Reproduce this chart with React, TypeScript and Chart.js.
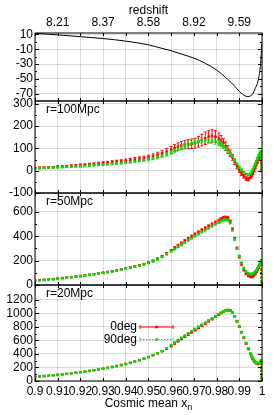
import React, { useEffect, useRef } from "react";
import { Chart, registerables } from "chart.js";

Chart.register(...registerables);

// ---------------- data ----------------
const X = [
  0.9, 0.902, 0.904, 0.906, 0.908, 0.91, 0.912, 0.914, 0.916, 0.918,
  0.92, 0.922, 0.924, 0.926, 0.928, 0.93, 0.932, 0.934, 0.936, 0.938,
  0.94, 0.942, 0.944, 0.946, 0.948, 0.95, 0.952, 0.954, 0.956, 0.958,
  0.96, 0.9615, 0.963, 0.9645, 0.966, 0.9675, 0.969, 0.9705, 0.972, 0.9735,
  0.975, 0.9765, 0.978, 0.9795, 0.981, 0.982, 0.983, 0.984, 0.985, 0.986,
  0.987, 0.988, 0.989, 0.99, 0.991, 0.992, 0.993, 0.994, 0.995, 0.9955,
  0.996, 0.9965, 0.997, 0.9975, 0.998, 0.9985, 0.999, 0.9995, 0.9997, 0.9998,
  0.99985, 0.9999, 0.99993, 0.99996, 0.99998, 1.0,
];

const TOP_X = [0.9, 0.91, 0.92, 0.93, 0.94, 0.95, 0.955, 0.96, 0.965, 0.97, 0.975, 0.98, 0.985, 0.988, 0.99, 0.992, 0.9935, 0.995, 0.996, 0.997, 0.998, 0.9985, 0.999, 0.9995, 0.9999, 1.0];
const TOP_Y = [11.5, 9.5, 7, 4.5, 1, -4, -8, -12, -17, -22, -29, -38, -51, -60, -67, -72, -74, -73, -70, -63, -56, -49, -40, -25, -5, 0];

// r = 100 Mpc
const R100_0 = [
  12, 13, 14, 15, 16, 18, 19, 20, 22, 23,
  25, 26, 28, 30, 32, 34, 36, 38, 40, 42,
  44, 47, 50, 53, 56, 60, 65, 71, 78, 86,
  94, 101, 108, 113, 117, 119, 121, 124, 130, 138,
  146, 153, 156, 153, 144, 135, 124, 110, 95, 78,
  60, 40, 20, 3, -12, -25, -35, -37, -28, -20,
  -10, 2, 15, 28, 40, 52, 62, 68, 70, 65,
  55, 42, 30, 18, 8, 0,
];
const R100_0_ERR = [
  3, 3, 3, 3, 3, 4, 4, 4, 4, 4,
  5, 5, 5, 5, 6, 6, 6, 7, 7, 7,
  8, 8, 9, 9, 10, 10, 11, 12, 13, 14,
  15, 16, 17, 18, 19, 20, 21, 22, 24, 26,
  28, 28, 28, 27, 25, 23, 21, 19, 17, 15,
  13, 12, 11, 10, 9, 8, 8, 8, 8, 7,
  7, 7, 6, 6, 6, 6, 5, 5, 5, 5,
  5, 5, 5, 5, 5, 5,
];
const R100_90 = [
  10, 11, 12, 13, 14, 15, 16, 17, 18, 19,
  20, 21, 23, 24, 26, 27, 29, 30, 32, 34,
  36, 38, 41, 44, 47, 51, 55, 60, 66, 73,
  81, 88, 96, 104, 111, 118, 124, 129, 133, 136,
  137, 137, 135, 130, 124, 118, 110, 101, 90, 78,
  64, 48, 32, 17, 4, -7, -15, -18, -12, -5,
  5, 17, 30, 43, 56, 68, 78, 85, 87, 80,
  65, 50, 35, 20, 8, 0,
];
const R100_90_ERR = [
  2, 2, 2, 2, 2, 2, 2, 2, 2, 2,
  3, 3, 3, 3, 3, 3, 3, 4, 4, 4,
  4, 4, 5, 5, 5, 6, 6, 7, 7, 8,
  8, 9, 9, 10, 10, 11, 11, 12, 12, 13,
  13, 13, 13, 12, 12, 11, 10, 9, 8, 8,
  7, 7, 6, 6, 5, 5, 5, 5, 5, 5,
  4, 4, 4, 4, 4, 4, 4, 4, 4, 4,
  4, 4, 4, 4, 4, 4,
];

// r = 50 Mpc
const R50_0 = [
  37, 40, 43, 46, 49, 53, 57, 61, 65, 69,
  74, 79, 84, 89, 95, 101, 107, 113, 120, 127,
  135, 143, 152, 161, 171, 183, 198, 215, 236, 259,
  284, 303, 322, 341, 360, 379, 397, 415, 432, 449,
  465, 481, 497, 513, 528, 540, 549, 553, 548, 522,
  458, 380, 302, 232, 172, 125, 95, 78, 70, 70,
  74, 82, 93, 107, 123, 142, 163, 185, 198, 202,
  170, 130, 95, 60, 30, 0,
];
const R50_0_ERR = [
  3, 3, 3, 3, 3, 3, 3, 3, 3, 3,
  3, 3, 3, 3, 3, 3, 3, 3, 3, 3,
  3, 6, 6, 6, 6, 6, 6, 6, 6, 6,
  6, 12, 12, 12, 12, 12, 12, 12, 12, 12,
  12, 12, 12, 12, 12, 12, 12, 12, 12, 10,
  10, 10, 10, 10, 10, 10, 10, 10, 10, 10,
  10, 6, 6, 6, 6, 6, 6, 6, 6, 6,
  6, 6, 6, 6, 6, 6,
];
const R50_90 = [
  35, 38, 41, 44, 47, 51, 55, 59, 63, 67,
  72, 77, 82, 87, 93, 99, 105, 111, 118, 125,
  133, 141, 150, 159, 169, 180, 194, 210, 230, 252,
  276, 294, 312, 330, 348, 366, 384, 401, 418, 434,
  450, 466, 482, 498, 513, 524, 532, 536, 532, 508,
  448, 375, 302, 238, 182, 140, 112, 96, 90, 90,
  93, 99, 108, 120, 135, 152, 172, 192, 202, 205,
  170, 130, 95, 60, 30, 0,
];
const R50_90_ERR = [
  2, 2, 2, 2, 2, 2, 2, 2, 2, 2,
  2, 2, 2, 2, 2, 2, 2, 2, 2, 2,
  2, 4, 4, 4, 4, 4, 4, 4, 4, 4,
  4, 8, 8, 8, 8, 8, 8, 8, 8, 8,
  8, 8, 8, 8, 8, 8, 8, 8, 8, 6,
  6, 6, 6, 6, 6, 6, 6, 6, 6, 6,
  6, 4, 4, 4, 4, 4, 4, 4, 4, 4,
  4, 4, 4, 4, 4, 4,
];

// r = 20 Mpc
const R20_0 = [
  60, 66, 72, 78, 85, 92, 99, 106, 114, 122,
  131, 140, 150, 160, 171, 182, 194, 207, 221, 236,
  252, 269, 288, 308, 330, 355, 382, 411, 440, 475,
  515, 555, 590, 623, 655, 688, 720, 752, 785, 818,
  850, 883, 916, 950, 982, 1005, 1025, 1040, 1050, 1046,
  1010, 958, 885, 803, 720, 638, 555, 473, 398, 362,
  328, 298, 276, 262, 254, 253, 262, 282, 298, 302,
  260, 200, 150, 100, 50, 0,
];
const R20_0_ERR = [
  3, 3, 3, 3, 3, 3, 3, 3, 3, 3,
  3, 3, 3, 3, 3, 3, 3, 3, 3, 3,
  3, 5, 5, 5, 5, 5, 5, 5, 5, 5,
  5, 10, 10, 10, 10, 10, 10, 10, 10, 10,
  10, 10, 10, 10, 10, 10, 10, 10, 10, 10,
  10, 8, 8, 8, 8, 8, 8, 8, 8, 8,
  8, 5, 5, 5, 5, 5, 5, 5, 5, 5,
  5, 5, 5, 5, 5, 5,
];
const R20_90 = [
  60, 66, 72, 78, 85, 92, 99, 106, 114, 122,
  131, 140, 150, 160, 171, 182, 194, 207, 221, 236,
  252, 269, 288, 308, 330, 355, 382, 411, 445, 484,
  530, 570, 605, 640, 673, 706, 739, 771, 803, 835,
  866, 897, 928, 960, 990, 1010, 1027, 1040, 1046, 1040,
  1005, 955, 885, 805, 725, 645, 565, 485, 410, 375,
  340, 310, 288, 274, 266, 265, 274, 292, 308, 312,
  260, 200, 150, 100, 50, 0,
];
const R20_90_ERR = [
  2, 2, 2, 2, 2, 2, 2, 2, 2, 2,
  2, 2, 2, 2, 2, 2, 2, 2, 2, 2,
  2, 3, 3, 3, 3, 3, 3, 3, 3, 3,
  3, 6, 6, 6, 6, 6, 6, 6, 6, 6,
  6, 6, 6, 6, 6, 6, 6, 6, 6, 6,
  6, 5, 5, 5, 5, 5, 5, 5, 5, 5,
  5, 4, 4, 4, 4, 4, 4, 4, 4, 4,
  4, 4, 4, 4, 4, 4,
];

const X_TICKS = [0.9, 0.91, 0.92, 0.93, 0.94, 0.95, 0.96, 0.97, 0.98, 0.99, 1.0];
const REDSHIFT_AT = [0.91, 0.93, 0.95, 0.97, 0.99];
const REDSHIFT_LABELS = ["8.21", "8.37", "8.58", "8.92", "9.59"];
const TOP_TICKS = [10, -10, -30, -50, -70];
const R100_TICKS = [300, 200, 100, 0, -100];
const R50_TICKS = [600, 400, 200, 0];
const R20_TICKS = [1200, 1000, 800, 600, 400, 200, 0];
const PANEL_LABELS = ["r=100Mpc", "r=50Mpc", "r=20Mpc"];
const SERIES_NAMES = ["0deg", "90deg"];
const X_TITLE = "Cosmic mean x";
const X_TITLE_SUB = "n";
const TOP_TITLE = "redshift";

// ---------------- layout / style ----------------
const FONT = "'Liberation Sans', Arial, Helvetica, sans-serif";
const W = 274;
const H = 415;
const AXIS_W = 35;
const PAD_RIGHT = 12;
const PANEL_BOUNDS = [
  [33, 101],
  [101, 193],
  [193, 285],
  [285, 381],
];
const RED = "rgb(255,0,0)";
const GREEN = "rgb(0,225,0)";
const GRID = "rgba(0,0,0,0.14)";

const errorBarPlugin = {
  id: "errbars",
  beforeDatasetDraw(chart: any, args: any) {
    const ds = chart.data.datasets[args.index];
    if (!ds.errors) return;
    const meta = chart.getDatasetMeta(args.index);
    const ys = chart.scales[meta.yAxisID];
    const a = chart.chartArea;
    const ctx = chart.ctx;
    ctx.save();
    ctx.beginPath();
    ctx.rect(a.left, a.top, a.right - a.left, a.bottom - a.top);
    ctx.clip();
    ctx.strokeStyle = ds.errorColor;
    ctx.lineWidth = 1;
    ctx.setLineDash(ds.errorDash || []);
    ctx.beginPath();
    ds.data.forEach((p: any, i: number) => {
      const e = ds.errors[i];
      const el = meta.data[i];
      if (!el) return;
      const px = el.x;
      const y1 = ys.getPixelForValue(p.y - e);
      const y2 = ys.getPixelForValue(p.y + e);
      ctx.moveTo(px, y1);
      ctx.lineTo(px, y2);
      ctx.moveTo(px - 1.5, y1);
      ctx.lineTo(px + 1.5, y1);
      ctx.moveTo(px - 1.5, y2);
      ctx.lineTo(px + 1.5, y2);
    });
    ctx.stroke();
    ctx.restore();
  },
};

function makeFramePlugin(yTicks: number[]) {
  return {
    id: "frame",
    afterDraw(chart: any) {
      const { ctx, chartArea: a, scales } = chart;
      ctx.save();
      ctx.strokeStyle = "#000";
      ctx.lineWidth = 1;
      ctx.setLineDash([]);
      ctx.strokeRect(a.left, a.top, a.right - a.left, a.bottom - a.top);
      ctx.beginPath();
      for (const v of X_TICKS) {
        const px = Math.round(scales.x.getPixelForValue(v)) + 0.5;
        ctx.moveTo(px, a.top);
        ctx.lineTo(px, a.top + 3);
        ctx.moveTo(px, a.bottom);
        ctx.lineTo(px, a.bottom - 3);
      }
      const s = [...yTicks].sort((p, q) => p - q);
      s.forEach((v, i) => {
        const py = Math.round(scales.y.getPixelForValue(v)) + 0.5;
        ctx.moveTo(a.left, py);
        ctx.lineTo(a.left + 4, py);
        ctx.moveTo(a.right, py);
        ctx.lineTo(a.right - 4, py);
        if (i < s.length - 1) {
          const m = Math.round(scales.y.getPixelForValue((v + s[i + 1]) / 2)) + 0.5;
          ctx.moveTo(a.left, m);
          ctx.lineTo(a.left + 2, m);
          ctx.moveTo(a.right, m);
          ctx.lineTo(a.right - 2, m);
        }
      });
      ctx.stroke();
      ctx.restore();
    },
  };
}

function makeLabelPlugin(text: string) {
  return {
    id: "panelLabel",
    afterDraw(chart: any) {
      const { ctx, chartArea: a } = chart;
      ctx.save();
      ctx.font = `12px ${FONT}`;
      ctx.fillStyle = "#000";
      ctx.textAlign = "left";
      ctx.textBaseline = "middle";
      ctx.fillText(text, a.left + 11, a.top + 8.5);
      ctx.restore();
    },
  };
}

const legendPlugin = {
  id: "key",
  afterDraw(chart: any) {
    const { ctx, chartArea: a } = chart;
    const textRight = a.left + 102;
    const x0 = a.left + 105;
    const x1 = a.left + 138;
    const rows = [
      { name: SERIES_NAMES[0], color: RED, dash: [] as number[], y: a.top + 42 },
      { name: SERIES_NAMES[1], color: GREEN, dash: [1.5, 1.5], y: a.top + 54.5 },
    ];
    ctx.save();
    for (const r of rows) {
      ctx.font = `12px ${FONT}`;
      ctx.textAlign = "right";
      ctx.textBaseline = "middle";
      ctx.fillStyle = "#000";
      ctx.fillText(r.name, textRight, r.y);
      ctx.strokeStyle = r.color;
      ctx.lineWidth = 1;
      ctx.setLineDash(r.dash);
      ctx.beginPath();
      ctx.moveTo(x0, r.y);
      ctx.lineTo(x1, r.y);
      ctx.moveTo(x0, r.y - 2);
      ctx.lineTo(x0, r.y + 2);
      ctx.moveTo(x1, r.y - 2);
      ctx.lineTo(x1, r.y + 2);
      ctx.stroke();
      ctx.setLineDash([]);
      ctx.fillStyle = r.color;
      ctx.fillRect((x0 + x1) / 2 - 1.3, r.y - 1.3, 2.6, 2.6);
    }
    ctx.restore();
  },
};

const xTitlePlugin = {
  id: "xtitle",
  afterDraw(chart: any) {
    const { ctx, chartArea: a } = chart;
    ctx.save();
    ctx.font = `12px ${FONT}`;
    const w1 = ctx.measureText(X_TITLE).width;
    ctx.font = `9px ${FONT}`;
    const w2 = ctx.measureText(X_TITLE_SUB).width;
    const cx = (a.left + a.right) / 2;
    const start = cx - (w1 + w2) / 2;
    const y = a.bottom + 23;
    ctx.fillStyle = "#000";
    ctx.textBaseline = "middle";
    ctx.textAlign = "left";
    ctx.font = `12px ${FONT}`;
    ctx.fillText(X_TITLE, start, y);
    ctx.font = `9px ${FONT}`;
    ctx.fillText(X_TITLE_SUB, start + w1, y + 4);
    ctx.restore();
  },
};

function xScale(kind: "top" | "hidden" | "bottom", height: number) {
  return {
    type: "linear",
    min: X_TICKS[0],
    max: X_TICKS[X_TICKS.length - 1],
    position: kind === "top" ? "top" : "bottom",
    afterBuildTicks: (s: any) => {
      s.ticks = X_TICKS.map((v) => ({ value: v }));
    },
    afterFit: (s: any) => {
      s.height = height;
    },
    grid: { color: GRID, drawTicks: false, lineWidth: 1 },
    border: { display: false },
    title:
      kind === "top"
        ? { display: true, text: TOP_TITLE, color: "#000", font: { family: FONT, size: 12 }, padding: { top: 3, bottom: 0 } }
        : { display: false },
    ticks: {
      display: kind !== "hidden",
      autoSkip: false,
      maxRotation: 0,
      minRotation: 0,
      color: "#000",
      font: { family: FONT, size: 12 },
      padding: 3,
      callback: (v: any) => {
        if (kind === "top") {
          const i = REDSHIFT_AT.findIndex((r) => Math.abs(r - v) < 1e-6);
          return i >= 0 ? REDSHIFT_LABELS[i] : "";
        }
        return String(+Number(v).toFixed(2));
      },
    },
  };
}

function yScale(min: number, max: number, ticks: number[]) {
  return {
    type: "linear",
    position: "left",
    min,
    max,
    afterBuildTicks: (s: any) => {
      s.ticks = ticks.map((v) => ({ value: v }));
    },
    afterFit: (s: any) => {
      s.width = AXIS_W;
    },
    grid: { color: GRID, drawTicks: false, lineWidth: 1 },
    border: { display: false },
    ticks: {
      autoSkip: false,
      color: "#000",
      font: { family: FONT, size: 12 },
      padding: 2,
      callback: (v: any) => String(v),
    },
  };
}

function scatterSets(red: number[], redErr: number[], green: number[], greenErr: number[]) {
  const pts = (vals: number[]) => X.map((x, i) => ({ x, y: vals[i] }));
  const common = {
    showLine: false,
    pointStyle: "rect",
    pointRadius: 1.8,
    pointHoverRadius: 1.8,
    pointBorderWidth: 0,
  };
  return [
    {
      ...common,
      label: SERIES_NAMES[1],
      data: pts(green),
      errors: greenErr,
      errorColor: GREEN,
      errorDash: [1.5, 1.5],
      backgroundColor: GREEN,
      borderColor: GREEN,
    },
    {
      ...common,
      label: SERIES_NAMES[0],
      data: pts(red),
      errors: redErr,
      errorColor: RED,
      errorDash: [],
      backgroundColor: RED,
      borderColor: RED,
    },
  ];
}

const baseOptions = {
  animation: false,
  responsive: false,
  devicePixelRatio: 1,
  events: [],
  plugins: { legend: { display: false }, tooltip: { enabled: false } },
};

function makeTop(canvas: HTMLCanvasElement) {
  const [, bottom] = PANEL_BOUNDS[0];
  return new Chart(canvas, {
    type: "line",
    data: {
      datasets: [
        {
          data: TOP_X.map((x, i) => ({ x, y: TOP_Y[i] })),
          borderColor: "#000",
          borderWidth: 1,
          pointRadius: 0,
          cubicInterpolationMode: "monotone",
          fill: false,
        },
      ],
    },
    options: {
      ...baseOptions,
      layout: { padding: { left: 0, right: PAD_RIGHT, top: 0, bottom: H - bottom } },
      scales: { x: xScale("top", PANEL_BOUNDS[0][0]), y: yScale(-80, 12, TOP_TICKS) },
    } as any,
    plugins: [makeFramePlugin(TOP_TICKS)],
  } as any);
}

function makePanel(
  canvas: HTMLCanvasElement,
  idx: number,
  sets: any[],
  yMin: number,
  yMax: number,
  ticks: number[],
  label: string,
  isBottom: boolean
) {
  const [top, bottom] = PANEL_BOUNDS[idx];
  const plugins: any[] = [errorBarPlugin, makeFramePlugin(ticks), makeLabelPlugin(label)];
  if (isBottom) plugins.push(legendPlugin, xTitlePlugin);
  return new Chart(canvas, {
    type: "scatter",
    data: { datasets: sets },
    options: {
      ...baseOptions,
      layout: { padding: { left: 0, right: PAD_RIGHT, top, bottom: isBottom ? 0 : H - bottom } },
      scales: {
        x: xScale(isBottom ? "bottom" : "hidden", isBottom ? H - bottom : 0),
        y: yScale(yMin, yMax, ticks),
      },
    } as any,
    plugins,
  } as any);
}

export default function App() {
  const r0 = useRef<HTMLCanvasElement>(null);
  const r1 = useRef<HTMLCanvasElement>(null);
  const r2 = useRef<HTMLCanvasElement>(null);
  const r3 = useRef<HTMLCanvasElement>(null);

  useEffect(() => {
    const charts = [
      makeTop(r0.current!),
      makePanel(r1.current!, 1, scatterSets(R100_0, R100_0_ERR, R100_90, R100_90_ERR), -100, 313, R100_TICKS, PANEL_LABELS[0], false),
      makePanel(r2.current!, 2, scatterSets(R50_0, R50_0_ERR, R50_90, R50_90_ERR), 0, 755, R50_TICKS, PANEL_LABELS[1], false),
      makePanel(r3.current!, 3, scatterSets(R20_0, R20_0_ERR, R20_90, R20_90_ERR), 0, 1420, R20_TICKS, PANEL_LABELS[2], true),
    ];
    return () => charts.forEach((c) => c.destroy());
  }, []);

  const cs: React.CSSProperties = { position: "absolute", left: 0, top: 0 };
  return (
    <div style={{ position: "absolute", left: 0, top: 0, width: W, height: H, background: "#fff" }}>
      <canvas ref={r0} width={W} height={H} style={cs} />
      <canvas ref={r1} width={W} height={H} style={cs} />
      <canvas ref={r2} width={W} height={H} style={cs} />
      <canvas ref={r3} width={W} height={H} style={cs} />
    </div>
  );
}
